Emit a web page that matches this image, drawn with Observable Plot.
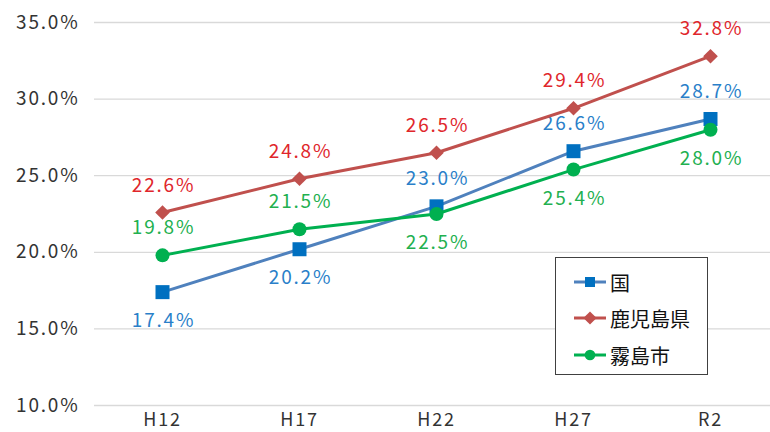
<!DOCTYPE html>
<html><head><meta charset="utf-8">
<script src="https://cdn.jsdelivr.net/npm/d3@7"></script>
<script src="https://cdn.jsdelivr.net/npm/@observablehq/plot@0.6"></script>
<style>
body{margin:0;background:#fff;font-family:"Noto Sans CJK JP","Noto Sans",sans-serif;}
#wrap{position:relative;width:770px;height:432px;}
#chart text{letter-spacing:1.8px;font-weight:400;}
#legend{position:absolute;left:555px;top:257px;width:151px;height:116px;border:1.3px solid #404040;background:#fff;}
.row{position:absolute;left:17px;height:20px;display:flex;align-items:center;font-size:20px;color:#111;}
.row svg{margin-right:3px;}
</style></head><body>
<div id="wrap"><div id="chart"></div><div id="legend"></div></div>
<script>
const years = ["H12","H17","H22","H27","R2"];
const seriesNames = ["国","鹿児島県","霧島市"];
const kuni = [17.4, 20.2, 23.0, 26.6, 28.7];
const kagoshima = [22.6, 24.8, 26.5, 29.4, 32.8];
const kirishima = [19.8, 21.5, 22.5, 25.4, 28.0];
const yTicks = [10, 15, 20, 25, 30, 35];
// label placement: 1 = above, -1 = below
const kuniPos = [-1, -1, 1, 1, 1];
const kagoshimaPos = [1, 1, 1, 1, 1];
const kirishimaPos = [1, 1, -1, -1, -1];

const styles = [
  {values: kuni, pos: kuniPos, line: "#4f81bd", marker: "#0070c0", label: "#2a7fc9", symbol: "square", r: 7.9},
  {values: kagoshima, pos: kagoshimaPos, line: "#c0504d", marker: "#c0504d", label: "#e0262b", symbol: "diamond2", r: 6.6},
  {values: kirishima, pos: kirishimaPos, line: "#00b050", marker: "#00b050", label: "#22b04f", symbol: "circle", r: 7}
];

const marks = [
  Plot.ruleY(yTicks, {stroke: "#d9d9d9", strokeWidth: 1.3}),
  Plot.axisY({ticks: yTicks, tickSize: 0, tickPadding: 15, tickFormat: d => d.toFixed(1) + "%", fontSize: 19, fill: "#333", label: null}),
  Plot.axisX({tickSize: 0, tickPadding: 8, fontSize: 18, fill: "#333", label: null})
];
styles.forEach((s, i) => {
  const data = years.map((y, j) => ({year: y, value: s.values[j], pos: s.pos[j]}));
  marks.push(Plot.line(data, {x: "year", y: "value", stroke: s.line, strokeWidth: 3}));
  marks.push(Plot.dot(data, {x: "year", y: "value", symbol: s.symbol, r: s.r, fill: s.marker, stroke: "none"}));
  marks.push(Plot.text(data.filter(d => d.pos > 0), {x: "year", y: "value", text: d => d.value.toFixed(1) + "%", dy: -27, dx: 1, fill: s.label, fontSize: 19}));
  marks.push(Plot.text(data.filter(d => d.pos < 0), {x: "year", y: "value", text: d => d.value.toFixed(1) + "%", dy: 29, dx: 1, fill: s.label, fontSize: 19}));
});

const chart = Plot.plot({
  width: 770, height: 432,
  marginLeft: 94, marginRight: 0, marginTop: 22, marginBottom: 27,
  style: {fontFamily: '"Noto Sans CJK JP","Noto Sans",sans-serif', overflow: "visible"},
  x: {type: "point", domain: years, range: [162, 710], padding: 0},
  y: {domain: [10, 35]},
  marks
});
document.getElementById("chart").appendChild(chart);

const legend = document.getElementById("legend");
const rowTops = [14, 50, 87];
styles.forEach((s, i) => {
  const row = document.createElement("div");
  row.className = "row";
  row.style.top = rowTops[i] + "px";
  const sym = s.symbol === "square" ? d3.symbolSquare : s.symbol === "circle" ? d3.symbolCircle : d3.symbolDiamond2;
  const size = s.symbol === "square" ? 100 : s.symbol === "circle" ? 90 : 110;
  row.innerHTML = `<svg width="34" height="14"><line x1="1" x2="33" y1="7" y2="7" stroke="${s.line}" stroke-width="3"/><path transform="translate(17,7)" d="${d3.symbol(sym, size)()}" fill="${s.marker}"/></svg><span>${seriesNames[i]}</span>`;
  legend.appendChild(row);
});
</script>
</body></html>
